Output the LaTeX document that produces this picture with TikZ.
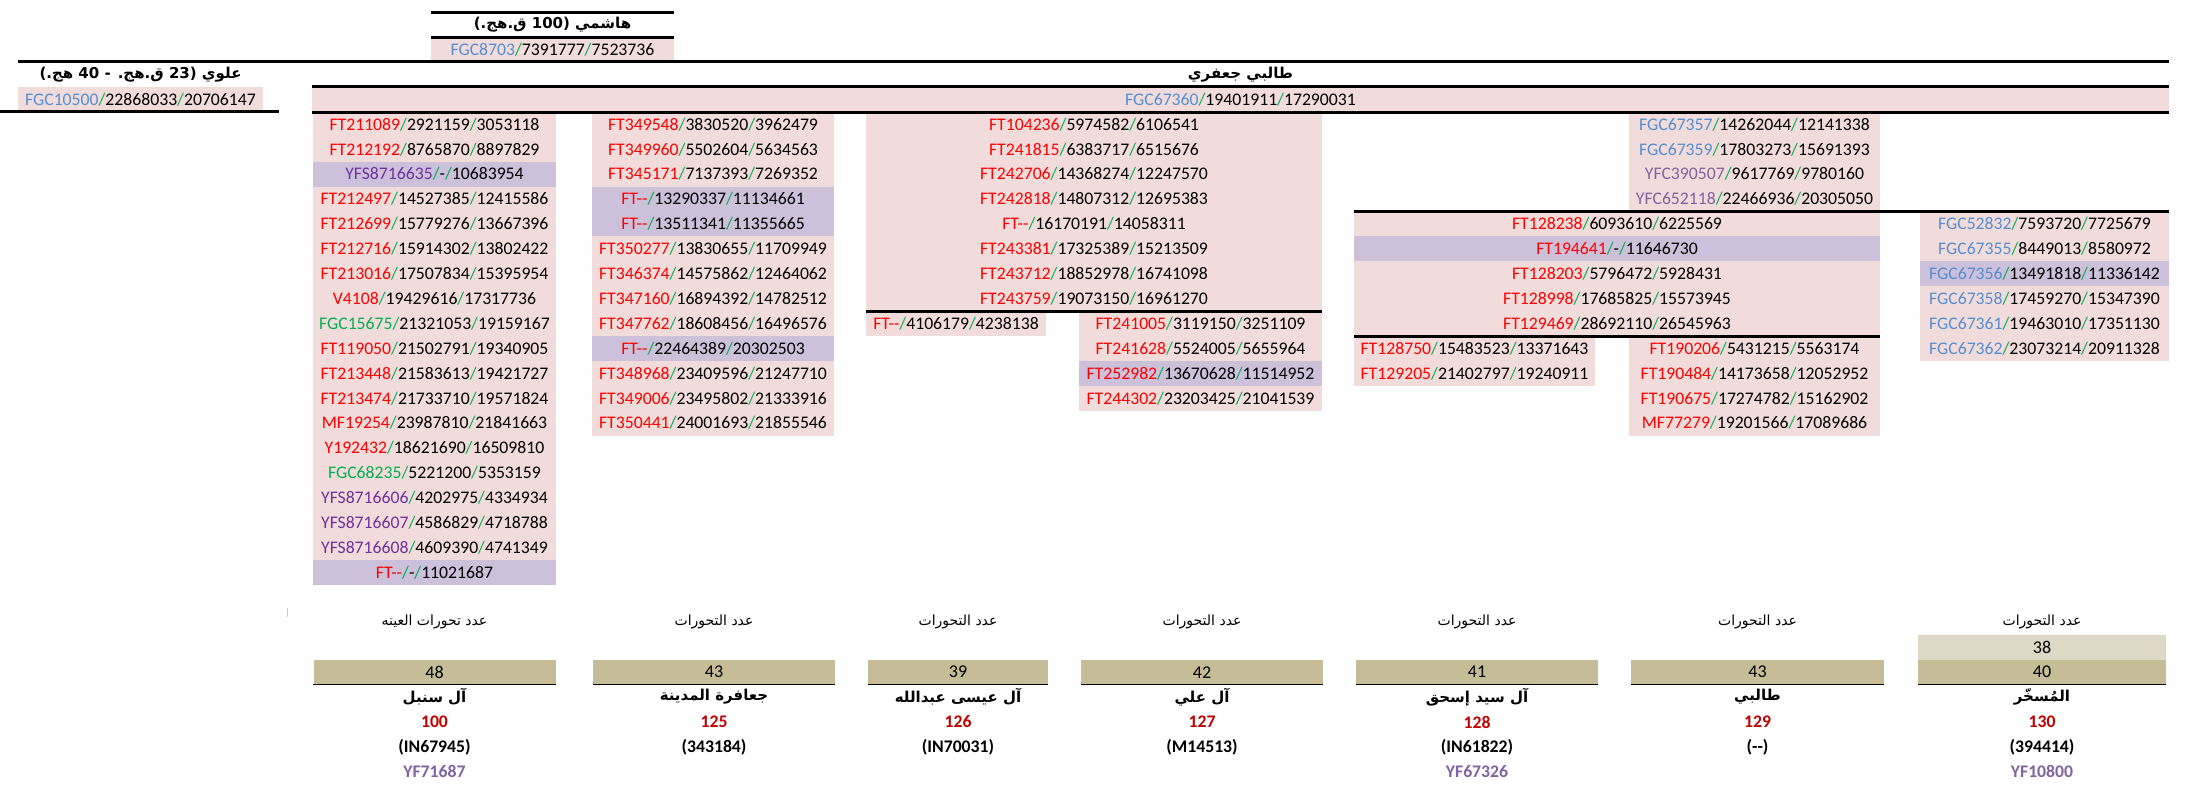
\documentclass[tikz,border=0pt]{standalone}
\usepackage{fontspec}
\setmainfont{Carlito}
\newfontfamily\arabicfont[Script=Arabic]{DejaVu Sans}
\TeXXeTstate=1

\begin{document}
\begin{tikzpicture}
[x=1pt,y=-24.9pt,
% Styles
snpcell/.style={minimum width=#1,minimum height=24.9pt,inner sep=0pt,fill=pk,
  font=\fontsize{17.7}{20}\selectfont},
titlecell/.style={minimum width=#1,minimum height=24.9pt,inner sep=0pt,
  font=\fontsize{15}{18}\selectfont\bfseries},
tancell/.style={minimum width=#1,minimum height=24.9pt,inner sep=0pt,fill=tanbg,
  font=\fontsize{18}{20}\selectfont},
sepline/.style={line width=3pt},
countline/.style={line width=1.3pt},
headtext/.style={inner sep=0pt,font=\fontsize{14}{16}\selectfont},
nametext/.style={inner sep=0pt,font=\fontsize{15}{18}\selectfont\bfseries},
numtext/.style={inner sep=0pt,text=numred,font=\fontsize{17.7}{20}\selectfont\bfseries},
reftext/.style={inner sep=0pt,font=\fontsize{17.7}{20}\selectfont\bfseries},
yftext/.style={inner sep=0pt,text=yfc,font=\fontsize{17.7}{20}\selectfont\bfseries}]
% Local definitions
\def\twodash{-\kern0pt-}
\def\artxt#1{{\arabicfont\beginR #1\endR}}
\def\snp#1#2#3#4{{\color{#1}#2}{\color{grn}/}#3{\color{grn}/}#4}
% Colors
\definecolor{pk}{HTML}{F2DCDB}
\definecolor{pu}{HTML}{CCC0DA}
\definecolor{tanbg}{HTML}{C4BD97}
\definecolor{tanlight}{HTML}{DDD9C4}
\definecolor{grn}{HTML}{00B050}
\definecolor{blu}{HTML}{558ED5}
\definecolor{yfs}{HTML}{7030A0}
\definecolor{yfc}{HTML}{8064A2}
\definecolor{numred}{HTML}{C00000}

\useasboundingbox (0,-0.494) rectangle (2191,31.233);

% Top of the tree
\node[titlecell=243pt] (hashemi) at (552.5,0.5)
  {\artxt{هاشمي (\beginL 100\endL{} ق.هج.)}};
\node[snpcell=243pt] (hashemisnp) at (552.5,1.5) {\snp{blu}{FGC8703}{7391777}{7523736}};
\node[titlecell=245pt] (alawi) at (140.5,2.5)
  {\artxt{علوي (\beginL 23\endL{} ق.هج. - \beginL 40\endL{} هج.)}};
\node[snpcell=245pt] (alawisnp) at (140.5,3.5) {\snp{blu}{FGC10500}{22868033}{20706147}};
\node[titlecell=1857pt] (talibi) at (1240.5,2.5) {\artxt{طالبي جعفري}};
\node[snpcell=1857pt] (talibisnp) at (1240.5,3.5) {\snp{blu}{FGC67360}{19401911}{17290031}};

% Sunbul
\foreach \bg/\ic/\id/\pa/\pb [count=\i] in {
  pk/red/FT211089/2921159/3053118, pk/red/FT212192/8765870/8897829,
  pu/yfs/YFS8716635/-/10683954, pk/red/FT212497/14527385/12415586,
  pk/red/FT212699/15779276/13667396, pk/red/FT212716/15914302/13802422,
  pk/red/FT213016/17507834/15395954, pk/red/V4108/19429616/17317736,
  pk/grn/FGC15675/21321053/19159167, pk/red/FT119050/21502791/19340905,
  pk/red/FT213448/21583613/19421727, pk/red/FT213474/21733710/19571824,
  pk/red/MF19254/23987810/21841663, pk/red/Y192432/18621690/16509810,
  pk/grn/FGC68235/5221200/5353159, pk/yfs/YFS8716606/4202975/4334934,
  pk/yfs/YFS8716607/4586829/4718788, pk/yfs/YFS8716608/4609390/4741349,
  pu/red/FT\twodash/-/11021687}
  \node[snpcell=243pt,fill=\bg] (sunbul-\i) at (434.5,3.5+\i) {\snp{\ic}{\id}{\pa}{\pb}};

% Madina
\foreach \bg/\id/\pa/\pb [count=\i] in {
  pk/FT349548/3830520/3962479, pk/FT349960/5502604/5634563,
  pk/FT345171/7137393/7269352, pu/FT\twodash/13290337/11134661,
  pu/FT\twodash/13511341/11355665, pk/FT350277/13830655/11709949,
  pk/FT346374/14575862/12464062, pk/FT347160/16894392/14782512,
  pk/FT347762/18608456/16496576, pu/FT\twodash/22464389/20302503,
  pk/FT348968/23409596/21247710, pk/FT349006/23495802/21333916,
  pk/FT350441/24001693/21855546}
  \node[snpcell=242pt,fill=\bg] (madina-\i) at (713,3.5+\i) {\snp{red}{\id}{\pa}{\pb}};

% Eisa and Ali
\foreach \id/\pa/\pb [count=\i] in {
  FT104236/5974582/6106541, FT241815/6383717/6515676,
  FT242706/14368274/12247570, FT242818/14807312/12695383,
  FT\twodash/16170191/14058311, FT243381/17325389/15213509,
  FT243712/18852978/16741098, FT243759/19073150/16961270}
  \node[snpcell=456pt] (eisaali-\i) at (1094,3.5+\i) {\snp{red}{\id}{\pa}{\pb}};
\node[snpcell=180pt] (eisa-1) at (956,12.5) {\snp{red}{FT\twodash}{4106179}{4238138}};
\foreach \bg/\id/\pa/\pb [count=\i] in {
  pk/FT241005/3119150/3251109, pk/FT241628/5524005/5655964,
  pu/FT252982/13670628/11514952, pk/FT244302/23203425/21041539}
  \node[snpcell=243pt,fill=\bg] (ali-\i) at (1200.5,11.5+\i) {\snp{red}{\id}{\pa}{\pb}};

% Ishaq, Talibi and Musakhar
\foreach \ic/\id/\pa/\pb [count=\i] in {
  blu/FGC67357/14262044/12141338, blu/FGC67359/17803273/15691393,
  yfc/YFC390507/9617769/9780160, yfc/YFC652118/22466936/20305050}
  \node[snpcell=251pt] (shared-\i) at (1754.5,3.5+\i) {\snp{\ic}{\id}{\pa}{\pb}};
\foreach \bg/\id/\pa/\pb [count=\i] in {
  pk/FT128238/6093610/6225569, pu/FT194641/-/11646730,
  pk/FT128203/5796472/5928431, pk/FT128998/17685825/15573945,
  pk/FT129469/28692110/26545963}
  \node[snpcell=526pt,fill=\bg] (ishaqtalibi-\i) at (1617,7.5+\i) {\snp{red}{\id}{\pa}{\pb}};
\foreach \id/\pa/\pb [count=\i] in {
  FT128750/15483523/13371643, FT129205/21402797/19240911}
  \node[snpcell=241pt] (ishaq-\i) at (1474.5,12.5+\i) {\snp{red}{\id}{\pa}{\pb}};
\foreach \id/\pa/\pb [count=\i] in {
  FT190206/5431215/5563174, FT190484/14173658/12052952,
  FT190675/17274782/15162902, MF77279/19201566/17089686}
  \node[snpcell=251pt] (talibisub-\i) at (1754.5,12.5+\i) {\snp{red}{\id}{\pa}{\pb}};
\foreach \bg/\id/\pa/\pb [count=\i] in {
  pk/FGC52832/7593720/7725679, pk/FGC67355/8449013/8580972,
  pu/FGC67356/13491818/11336142, pk/FGC67358/17459270/15347390,
  pk/FGC67361/19463010/17351130, pk/FGC67362/23073214/20911328}
  \node[snpcell=249pt,fill=\bg] (musakhar-\i) at (2044.5,7.5+\i) {\snp{blu}{\id}{\pa}{\pb}};

% Separators
\draw[sepline] (hashemi.north west) -- (hashemi.north east);
\draw[sepline] (hashemisnp.north west) -- (hashemisnp.north east);
\draw[sepline] (alawi.north west) -- (talibi.north east);
\draw[sepline] (talibisnp.north west) -- (talibisnp.north east);
\draw[sepline] (talibisnp.south west) -- (talibisnp.south east);
\draw[sepline] (0,4) -- (279,4);
\draw[sepline] (eisaali-8.south west) -- (eisaali-8.south east);
\draw[sepline] (ishaqtalibi-1.north west) -- (musakhar-1.north east);
\draw[sepline] (ishaqtalibi-5.south west) -- (ishaqtalibi-5.south east);
\draw[gray!40,line width=1pt] (287,23.92) -- (287,24.28);

% Counts and lineages
\foreach \x/\w/\hd/\cnt/\ttl/\num/\rf [count=\i] in {
  434.5/242/{عدد تحورات العينه}/48/{آل سنبل}/100/(IN67945),
  714/242/{عدد التحورات}/43/{جعافرة المدينة}/125/(343184),
  958/180/{عدد التحورات}/39/{آل عيسى عبدالله}/126/(IN70031),
  1202/242/{عدد التحورات}/42/{آل علي}/127/(M14513),
  1477/242/{عدد التحورات}/41/{آل سيد إسحق}/128/(IN61822),
  1757.5/253/{عدد التحورات}/43/{طالبي}/129/(\twodash),
  2042/248/{عدد التحورات}/40/{المُسخّر}/130/(394414)}
{
  \node[headtext] (head-\i) at (\x,24.5) {\artxt{\hd}};
  \node[tancell=\w pt] (count-\i) at (\x,26.5) {\cnt};
  \draw[countline] (count-\i.south west) -- (count-\i.south east);
  \node[nametext] (name-\i) at (\x,27.5) {\artxt{\ttl}};
  \node[numtext] (num-\i) at (\x,28.5) {\num};
  \node[reftext] (ref-\i) at (\x,29.5) {\rf};
}
\node[tancell=248pt,fill=tanlight] (count-7b) at (2042,25.5) {38};
\node[yftext] (yf-1) at (434.5,30.5) {YF71687};
\node[yftext] (yf-5) at (1477,30.5) {YF67326};
\node[yftext] (yf-7) at (2042,30.5) {YF10800};
\end{tikzpicture}
\end{document}
